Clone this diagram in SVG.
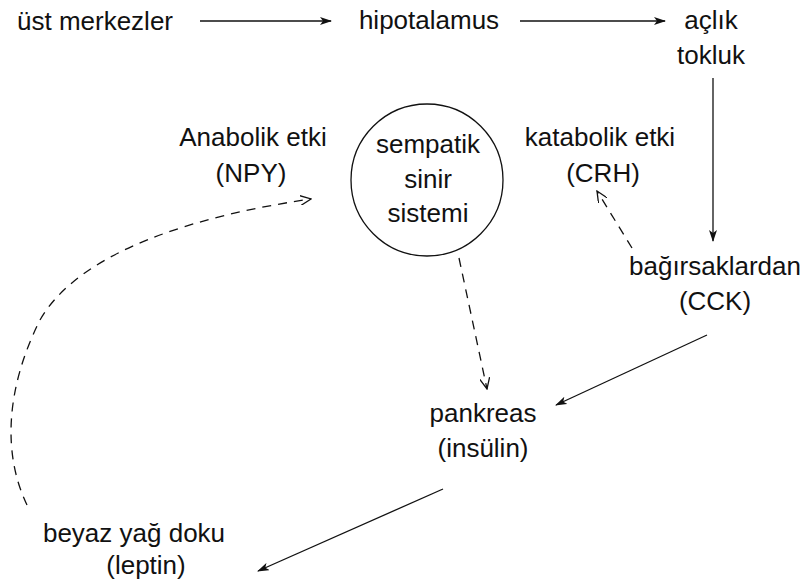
<svg xmlns="http://www.w3.org/2000/svg" width="804" height="582" viewBox="0 0 804 582">
<defs>
<style>
text{font-family:"Liberation Sans",Arial,sans-serif;font-size:26px;fill:#111;text-anchor:middle}
.s{fill:none;stroke:#111;stroke-width:1.3}
.d{fill:none;stroke:#111;stroke-width:1.3;stroke-dasharray:9 7}
</style>
<marker id="a" viewBox="0 0 12 8" refX="11" refY="4" markerWidth="12" markerHeight="8" markerUnits="userSpaceOnUse" orient="auto">
<path d="M0,0 L12,4 L0,8 L3,4 Z" fill="#111"/>
</marker>
<marker id="o" viewBox="0 0 12 10" refX="11" refY="5" markerWidth="12" markerHeight="10" markerUnits="userSpaceOnUse" orient="auto">
<path d="M0,0 L11,5 L0,10" fill="none" stroke="#111" stroke-width="1.3"/>
</marker>
</defs>
<rect width="804" height="582" fill="#fff"/>
<g id="ust"><text x="95" y="30">üst merkezler</text></g>
<g id="hipotalamus"><text x="429" y="29">hipotalamus</text></g>
<g id="aclik"><text x="711" y="29">açlık</text><text x="711" y="64">tokluk</text></g>
<g id="anabolik"><text x="253" y="146">Anabolik etki</text><text x="251" y="182">(NPY)</text></g>
<g id="sempatik"><circle cx="427" cy="180" r="76" class="s"/><text x="428" y="153">sempatik</text><text x="428" y="188">sinir</text><text x="428" y="222">sistemi</text></g>
<g id="katabolik"><text x="600" y="146">katabolik etki</text><text x="603" y="182">(CRH)</text></g>
<g id="bagirsak"><text x="715" y="275">bağırsaklardan</text><text x="715" y="310">(CCK)</text></g>
<g id="pankreas"><text x="483" y="422">pankreas</text><text x="483" y="457">(insülin)</text></g>
<g id="beyaz"><text x="134" y="542">beyaz yağ doku</text><text x="146" y="574">(leptin)</text></g>
<g id="connectors">
<line x1="200" y1="21" x2="331" y2="21" class="s" marker-end="url(#a)"/>
<line x1="520" y1="21" x2="665" y2="21" class="s" marker-end="url(#a)"/>
<line x1="713" y1="78" x2="713" y2="241" class="s" marker-end="url(#a)"/>
<line x1="707" y1="335" x2="556" y2="405" class="s" marker-end="url(#a)"/>
<line x1="443" y1="489" x2="258" y2="571" class="s" marker-end="url(#a)"/>
<line x1="632" y1="248" x2="597" y2="191" class="d" marker-end="url(#o)"/>
<line x1="459" y1="258" x2="487" y2="389" class="d" marker-end="url(#o)"/>
<path d="M27,505 C3,455 5,390 40,320 C80,250 200,215 311,199" class="d" marker-end="url(#o)"/>
</g>
</svg>
